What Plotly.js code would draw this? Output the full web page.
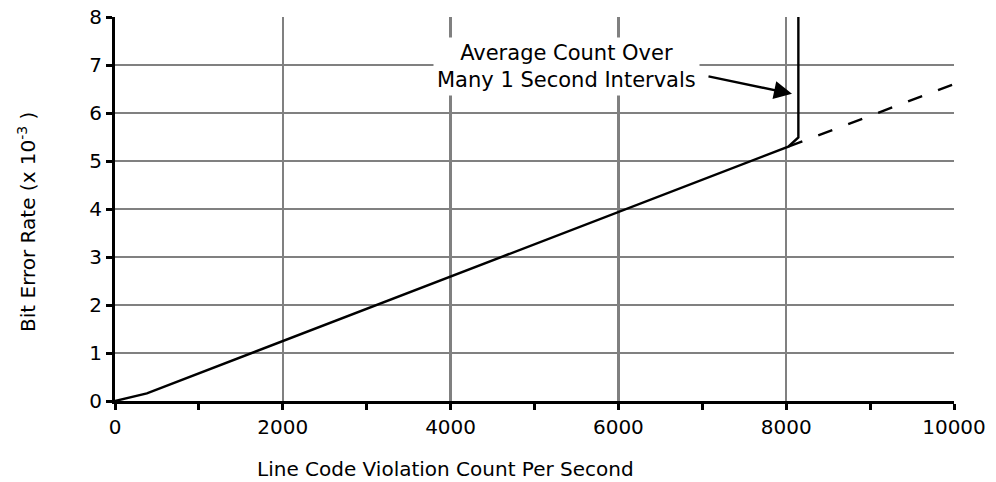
<!DOCTYPE html>
<html>
<head>
<meta charset="utf-8">
<script src="https://cdn.plot.ly/plotly-3.0.1.min.js"></script>
<style>html,body{margin:0;padding:0;background:#fff;}#chart{width:996px;height:482px;}</style>
</head>
<body>
<div id="chart"></div>
<script>
// Measured curve: bit error rate vs line code violation count
const lcvCount = [0, 380, 8025, 8145, 8145];
const berValue = [0, 0.16, 5.30, 5.49, 8.0];
// Dashed extension of the linear relation
const extCount = [8025, 10000];
const extValue = [5.30, 6.60];
// Texts
const xTitle = 'Line Code Violation Count Per Second';
const yTitle = 'Bit Error Rate (x 10<sup>-3</sup> )';
const noteText = 'Average Count Over<br>Many 1 Second Intervals';
const notePos = [5387, 6.96];
const arrowTail = [7056, 6.77];
const arrowTip = [8069, 6.40];

const font = 'DejaVu Sans, Liberation Sans, Arial, sans-serif';

const traces = [
  {x: lcvCount, y: berValue, mode: 'lines', line: {color: '#000', width: 2.4}, hoverinfo: 'skip'},
  {x: extCount, y: extValue, mode: 'lines', line: {color: '#000', width: 2.4, dash: '15px,17px'}, hoverinfo: 'skip'}
];

const layout = {
  width: 996, height: 482,
  margin: {l: 115, r: 42, t: 17, b: 81},
  paper_bgcolor: '#fff', plot_bgcolor: '#fff',
  showlegend: false,
  font: {family: font, color: '#000', size: 20},
  xaxis: {
    range: [0, 10000], dtick: 2000, tick0: 0,
    exponentformat: 'none', separatethousands: false, tickformat: 'd',
    showline: true, linecolor: '#000', linewidth: 3,
    showgrid: true, gridcolor: '#808080', gridwidth: 2.5,
    zeroline: false,
    ticks: 'outside', ticklen: 6, tickwidth: 3, tickcolor: '#000',
    minor: {dtick: 1000, ticks: 'outside', ticklen: 6, tickwidth: 3, tickcolor: '#000', showgrid: false},
    tickfont: {size: 20}
  },
  yaxis: {
    range: [0, 8], dtick: 1,
    showline: true, linecolor: '#000', linewidth: 3,
    showgrid: true, gridcolor: '#808080', gridwidth: 2.5,
    zeroline: false,
    ticks: 'outside', ticklen: 6, tickwidth: 3, tickcolor: '#000',
    tickfont: {size: 20}
  },
  annotations: [
    {x: 0.3945, y: -0.177, xref: 'paper', yref: 'paper', text: xTitle, showarrow: false,
     xanchor: 'center', yanchor: 'middle', font: {size: 20}},
    {x: -0.105, y: 0.466, xref: 'paper', yref: 'paper', text: yTitle, showarrow: false,
     xanchor: 'center', yanchor: 'middle', textangle: -90, font: {size: 20}},
    {x: notePos[0], y: notePos[1], xref: 'x', yref: 'y', text: noteText, showarrow: false,
     bgcolor: '#fff', font: {size: 21, color: '#000'}, borderpad: 3},
    {x: arrowTip[0], y: arrowTip[1], ax: arrowTail[0], ay: arrowTail[1], axref: 'x', ayref: 'y',
     xref: 'x', yref: 'y', text: '', showarrow: true, arrowhead: 2, arrowsize: 1.5, arrowwidth: 2.4, arrowcolor: '#000'}
  ]
};

Plotly.newPlot('chart', traces, layout, {staticPlot: true, displayModeBar: false});
</script>
</body>
</html>
